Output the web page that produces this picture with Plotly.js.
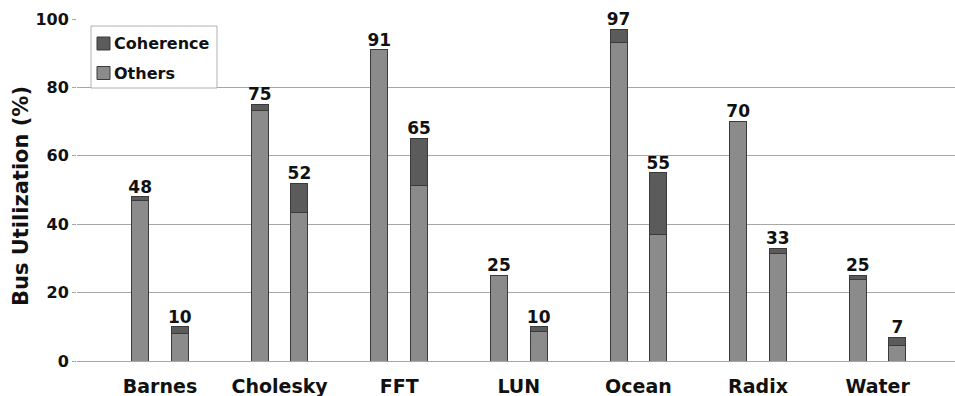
<!DOCTYPE html>
<html>
<head>
<meta charset="utf-8">
<script src="https://cdn.plot.ly/plotly-3.0.1.min.js"></script>
<style>html,body{margin:0;padding:0;background:#fff;}#chart{width:955px;height:396px;}</style>
</head>
<body>
<div id="chart"></div>
<script>
// Data
const categories = ["Barnes", "Cholesky", "FFT", "LUN", "Ocean", "Radix", "Water"];
// first bar of each pair
const othersA    = [47, 73.3, 91, 25, 93, 70, 23.8];
const coherenceA = [1, 1.7, 0, 0, 4, 0, 1.2];
const labelA     = [48, 75, 91, 25, 97, 70, 25];
// second bar of each pair
const othersB    = [8, 43.4, 51.2, 8.7, 37, 31.5, 4.5];
const coherenceB = [2, 8.6, 13.8, 1.3, 18, 1.5, 2.5];
const labelB     = [10, 52, 65, 10, 55, 33, 7];
const yTicks = [0, 20, 40, 60, 80, 100];
const yTitle = "Bus Utilization (%)";
const seriesNames = ["Coherence", "Others"];
const seriesColors = {Coherence: "#5b5b5b", Others: "#8b8b8b"};

const d = 0.166, bw = 0.142;
const xs = [], others = [], coh = [], labs = [], labY = [];
categories.forEach((c, i) => {
  xs.push(i - d, i + d);
  others.push(othersA[i], othersB[i]);
  coh.push(coherenceA[i], coherenceB[i]);
  labs.push(String(labelA[i]), String(labelB[i]));
  labY.push(othersA[i] + coherenceA[i], othersB[i] + coherenceB[i]);
});

const FONT = "DejaVu Sans, Verdana, sans-serif";
const lineStyle = {color: "#3a3a3a", width: 1};

const traces = [
  {type: "bar", name: "Others", x: xs, y: others, width: bw,
   marker: {color: seriesColors.Others, line: lineStyle}, hoverinfo: "skip"},
  {type: "bar", name: "Coherence", x: xs, y: coh, width: bw,
   marker: {color: seriesColors.Coherence, line: lineStyle}, hoverinfo: "skip"},
  {type: "scatter", mode: "text", x: xs, y: labY, text: labs,
   textposition: "top center", showlegend: false, hoverinfo: "skip",
   textfont: {family: FONT, size: 17, color: "#111", weight: "bold"}, cliponaxis: false}
];

// pixel -> paper helpers for the hand-drawn legend and title
const L = 77, R = 0, T = 19, B = 35, W = 955, H = 396;
const px = x => (x - L) / (W - L - R);
const py = y => (H - B - y) / (H - T - B);

const shapes = [
  {type: "rect", xref: "paper", yref: "paper", x0: px(91), x1: px(217), y0: py(88), y1: py(26),
   fillcolor: "#fff", line: {color: "#b0b0b0", width: 1}, layer: "above"}
];
const annotations = [
  {xref: "paper", yref: "paper", x: px(21), y: py(196), xanchor: "center", yanchor: "middle",
   textangle: -90, text: yTitle, showarrow: false,
   font: {family: FONT, size: 21, color: "#111", weight: "bold"}}
];
seriesNames.forEach((n, k) => {
  const top = 37 + k * 29.5;
  shapes.push({type: "rect", xref: "paper", yref: "paper", x0: px(97), x1: px(110), y0: py(top + 13), y1: py(top),
    fillcolor: seriesColors[n], line: lineStyle, layer: "above"});
  annotations.push({xref: "paper", yref: "paper", x: px(112), y: py(top + 6.5), xanchor: "left", yanchor: "middle",
    text: n, showarrow: false, font: {family: FONT, size: 16, color: "#111", weight: "bold"}});
});

const layout = {
  width: W, height: H,
  margin: {l: L, r: R, t: T, b: B},
  barmode: "stack",
  paper_bgcolor: "#fff", plot_bgcolor: "#fff",
  font: {family: FONT, color: "#111"},
  xaxis: {
    range: [-0.694, 6.647],
    tickvals: categories.map((c, i) => i),
    ticktext: categories,
    tickfont: {family: FONT, size: 19, color: "#111", weight: "bold"},
    ticklabelstandoff: 12,
    showgrid: false, zeroline: false, showline: false, ticks: "",
    fixedrange: true
  },
  yaxis: {
    range: [0, 100],
    tickvals: yTicks,
    tickfont: {family: FONT, size: 16, color: "#111", weight: "bold"},
    showgrid: true, gridcolor: "#a6a6a6", gridwidth: 1,
    zeroline: true, zerolinecolor: "#a6a6a6", zerolinewidth: 1,
    ticks: "outside", ticklen: 4, tickcolor: "#a6a6a6",
    fixedrange: true
  },
  shapes: shapes,
  annotations: annotations,
  showlegend: false
};

Plotly.newPlot("chart", traces, layout, {displayModeBar: false, staticPlot: true});
</script>
</body>
</html>
